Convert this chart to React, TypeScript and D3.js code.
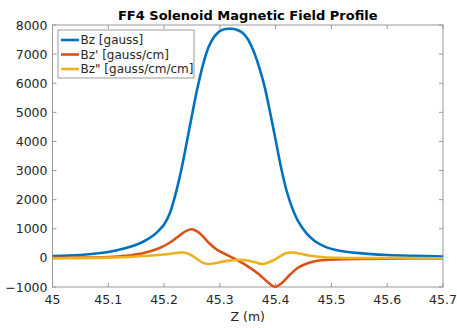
import * as d3 from "d3";

const title = "FF4 Solenoid Magnetic Field Profile";
const xLabel = "Z (m)";
const xTicks = [45, 45.1, 45.2, 45.3, 45.4, 45.5, 45.6, 45.7];
const yTicks = [-1000, 0, 1000, 2000, 3000, 4000, 5000, 6000, 7000, 8000];

// Bz [gauss]
const bzZ = [45.0, 45.05, 45.1, 45.13, 45.15, 45.165, 45.18, 45.19, 45.2, 45.21, 45.22, 45.23, 45.24, 45.25, 45.26, 45.27, 45.28, 45.29, 45.3, 45.31, 45.32, 45.33, 45.34, 45.35, 45.36, 45.37, 45.38, 45.39, 45.4, 45.41, 45.42, 45.43, 45.44, 45.455, 45.47, 45.49, 45.51, 45.55, 45.6, 45.65, 45.7];
const bzV = [65, 100, 200, 330, 450, 580, 760, 930, 1150, 1520, 2150, 2950, 3900, 4900, 5850, 6650, 7250, 7600, 7790, 7860, 7870, 7840, 7740, 7520, 7120, 6580, 5900, 5000, 4050, 3080, 2280, 1700, 1270, 850, 580, 370, 265, 165, 100, 70, 50];

// Bz' [gauss/cm]
const dbzZ = [45.0, 45.05, 45.1, 45.13, 45.16, 45.19, 45.21, 45.23, 45.24, 45.25, 45.26, 45.27, 45.28, 45.295, 45.31, 45.325, 45.34, 45.355, 45.37, 45.385, 45.395, 45.4, 45.41, 45.425, 45.44, 45.455, 45.475, 45.5, 45.55, 45.62, 45.7];
const dbzV = [0, 10, 30, 70, 150, 320, 520, 800, 930, 985, 900, 730, 520, 280, 130, -20, -170, -350, -560, -820, -970, -990, -880, -590, -340, -200, -100, -60, -35, -25, -20];

// Bz" [gauss/cm/cm]
const d2bzZ = [45.0, 45.1, 45.15, 45.19, 45.215, 45.23, 45.24, 45.25, 45.26, 45.27, 45.28, 45.295, 45.31, 45.33, 45.35, 45.365, 45.378, 45.39, 45.4, 45.41, 45.42, 45.43, 45.445, 45.46, 45.48, 45.51, 45.6, 45.7];
const d2bzV = [-10, 10, 50, 100, 150, 185, 170, 80, -50, -170, -210, -170, -110, -70, -90, -160, -210, -130, -40, 80, 170, 185, 140, 80, 30, 5, -5, -10];

const names = ["Bz [gauss]", "Bz' [gauss/cm]", 'Bz" [gauss/cm/cm]'];
const colors = ["#0072BD", "#D95319", "#EDB120"];

export default function App() {
  const W = 457, H = 328;
  const L = 52.5, R = 443, T = 25, B = 287;
  const x = d3.scaleLinear().domain([45, 45.7]).range([L, R]);
  const y = d3.scaleLinear().domain([-1000, 8000]).range([B, T]);
  const line = d3.line<[number, number]>()
    .x(d => x(d[0])).y(d => y(d[1]))
    .curve(d3.curveCatmullRom.alpha(0.5));

  const series = [
    d3.zip(bzZ, bzV) as [number, number][],
    d3.zip(dbzZ, dbzV) as [number, number][],
    d3.zip(d2bzZ, d2bzV) as [number, number][],
  ];
  const axisColor = "#999";
  const textColor = "#262626";
  const font = "DejaVu Sans";
  const tl = 4;

  return (
    <svg width={W} height={H} style={{ position: "fixed", left: 0, top: 0, background: "#fff" }}>
      <defs>
        <clipPath id="plotClip">
          <rect x={L} y={T - 2} width={R - L} height={B - T + 4} />
        </clipPath>
      </defs>
      <rect x={0} y={0} width={W} height={H} fill="#fff" />
      <text x={(L + R) / 2} y={20} textAnchor="middle" fontFamily={font} fontWeight="bold" fontSize={13} fill="#000">{title}</text>

      {/* ticks */}
      {xTicks.map(t => (
        <g key={"x" + t}>
          <line x1={x(t)} x2={x(t)} y1={B} y2={B - tl} stroke={axisColor} />
          <line x1={x(t)} x2={x(t)} y1={T} y2={T + tl} stroke={axisColor} />
          <text x={x(t)} y={304} textAnchor="middle" fontFamily={font} fontSize={12.5} fill={textColor}>{String(t)}</text>
        </g>
      ))}
      {yTicks.map(t => (
        <g key={"y" + t}>
          <line x1={L} x2={L + tl} y1={y(t)} y2={y(t)} stroke={axisColor} />
          <line x1={R} x2={R - tl} y1={y(t)} y2={y(t)} stroke={axisColor} />
          <text x={47.5} y={y(t)} dy="0.36em" textAnchor="end" fontFamily={font} fontSize={12.5} fill={textColor}>{t < 0 ? "\u2212" + Math.abs(t) : String(t)}</text>
        </g>
      ))}
      <rect x={L} y={T} width={R - L} height={B - T} fill="none" stroke={axisColor} strokeWidth={1} />
      <text x={(L + R) / 2} y={321} textAnchor="middle" fontFamily={font} fontSize={12.5} fill={textColor}>{xLabel}</text>

      <g clipPath="url(#plotClip)">
        {series.map((s, i) => (
          <path key={i} d={line(s) || ""} fill="none" stroke={colors[i]} strokeWidth={2.6} strokeLinejoin="round" />
        ))}
      </g>

      {/* legend */}
      <g>
        <rect x={58} y={30} width={136} height={48} fill="#fff" stroke={axisColor} />
        {names.map((n, i) => (
          <g key={n}>
            <line x1={61} x2={79} y1={40 + i * 14.5} y2={40 + i * 14.5} stroke={colors[i]} strokeWidth={2.6} />
            <text x={80.5} y={40 + i * 14.5} dy="0.36em" fontFamily={font} fontSize={12} fill={textColor}>{n}</text>
          </g>
        ))}
      </g>
    </svg>
  );
}
